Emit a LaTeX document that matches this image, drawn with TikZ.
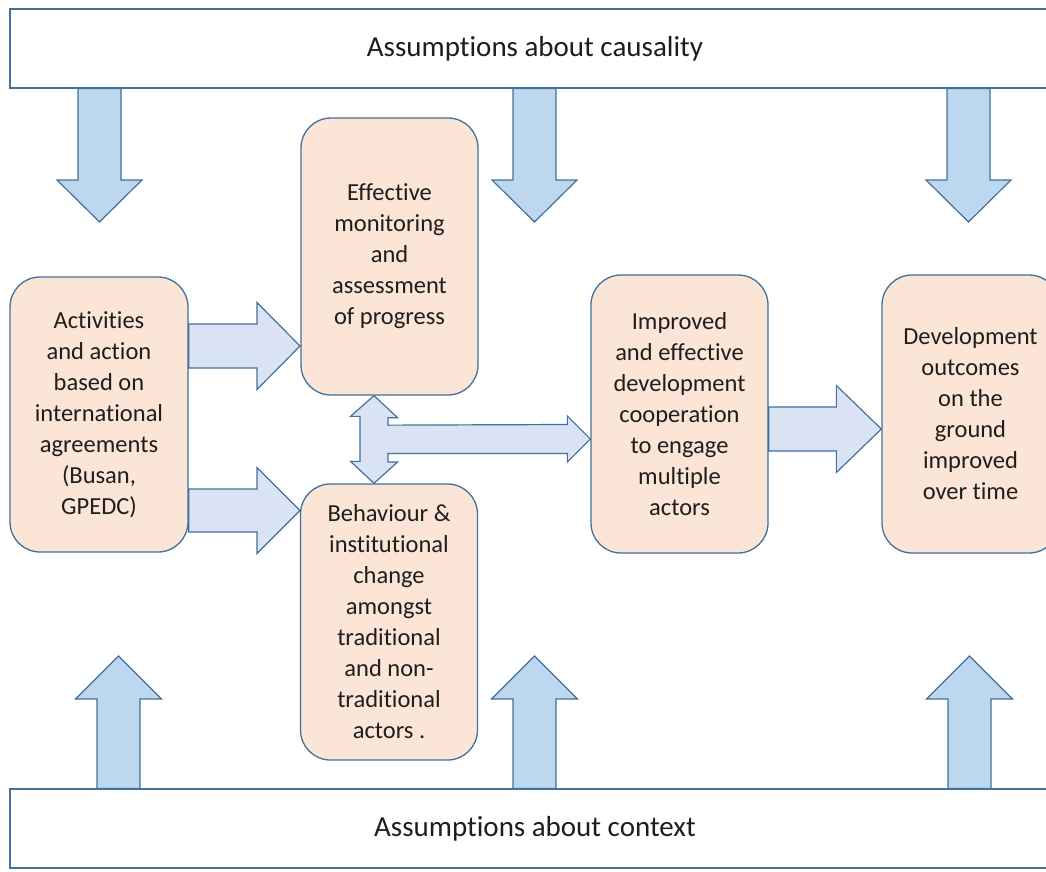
\documentclass[tikz,border=0pt]{standalone}
\usepackage{fontspec}
\setmainfont{Carlito}[Ligatures=NoCommon]
\usetikzlibrary{calc}

\definecolor{peach}{HTML}{FBE5D6}
\definecolor{boxline}{HTML}{41719C}
\definecolor{outerblue}{HTML}{BDD7EE}
\definecolor{innerblue}{HTML}{DAE3F3}
\definecolor{txt}{HTML}{1E1E1E}

% block arrow: [style]{from}{to}{half shaft}{half head}{head length}
\newcommand{\fatarrow}[6][]{%
  \draw[#1] let \p1=($(#3)-(#2)$), \n1={atan2(\y1,\x1)} in
    ($(#2)+(\n1+90:#4pt)$)
    -- ($(#3)+(\n1+180:#6pt)+(\n1+90:#4pt)$)
    -- ($(#3)+(\n1+180:#6pt)+(\n1+90:#5pt)$)
    -- (#3)
    -- ($(#3)+(\n1+180:#6pt)+(\n1-90:#5pt)$)
    -- ($(#3)+(\n1+180:#6pt)+(\n1-90:#4pt)$)
    -- ($(#2)+(\n1-90:#4pt)$) -- cycle;}

\begin{document}
\begin{tikzpicture}[x=1pt,y=-1pt,
    banner/.style={draw=boxline,fill=white,line width=1.3pt,minimum width=1050pt,minimum height=79pt,
      text=txt,font=\fontsize{29}{34}\selectfont},
    stage/.style={draw=boxline,fill=peach,line width=1.3pt,rounded corners=30pt,minimum width=177pt,
      align=center,text=txt,font=\fontsize{24.5}{31}\selectfont},
    outer/.style={draw=boxline,line width=1.2pt,fill=outerblue},
    inner/.style={draw=boxline,line width=1.2pt,fill=innerblue}]
	\useasboundingbox (0,0) rectangle (1046,872);
	\clip (0,0) rectangle (1046,872);
	\node[banner] (cause) at (535,48.5) {Assumptions about causality};
	\node[banner] (context) at (535,828.5) {Assumptions about context};
	\node[stage,minimum width=178pt,minimum height=275pt] (act) at (99,414.5)
		{Activities\\and action\\based on\\international\\agreements\\(Busan,\\GPEDC)};
	\node[stage,minimum height=277pt] (mon) at (389.5,256.5)
		{Effective\\monitoring\\and\\assessment\\of progress};
	\node[stage,minimum height=276pt] (beh) at (389,622)
		{Behaviour \&\\institutional\\change\\amongst\\traditional\\and non-\\traditional\\actors .};
	\node[stage,minimum height=278pt] (imp) at (679.5,414)
		{Improved\\and effective\\development\\cooperation\\to engage\\multiple\\actors};
	\node[stage,minimum height=278pt] (dev) at (970.5,414)
		{Development\\outcomes\\on the\\ground\\improved\\over time};
	% arrow tips
	\coordinate (d1) at (99.5,222);
	\coordinate (d2) at (534.5,222);
	\coordinate (d3) at (968.5,222);
	\coordinate (u1) at (118.5,656);
	\coordinate (u2) at (534.5,656);
	\coordinate (u3) at (969.5,656);
	\coordinate (ra) at (300,346);
	\coordinate (rb) at (300,510.5);
	\coordinate (rc) at (882,429);
	\coordinate (hub) at (374,439);
	% assumptions
	\fatarrow[outer]{cause.south -| d1}{d1}{21.5}{42.5}{42}
	\fatarrow[outer]{cause.south -| d2}{d2}{21.5}{42.5}{42}
	\fatarrow[outer]{cause.south -| d3}{d3}{21.5}{42.5}{42}
	\fatarrow[outer]{context.north -| u1}{u1}{21.5}{43}{43}
	\fatarrow[outer]{context.north -| u2}{u2}{21.5}{43}{43}
	\fatarrow[outer]{context.north -| u3}{u3}{21.5}{43}{43}
	% flow
	\fatarrow[inner]{act.east |- ra}{ra}{22}{43.5}{43}
	\fatarrow[inner]{act.east |- rb}{rb}{21.5}{43}{43}
	\fatarrow[inner]{imp.east |- rc}{dev.west |- rc}{22}{43.5}{45}
	\draw[inner] (hub |- mon.south) -- ++(23.5,22) -- ++(-9.5,0) -- ++(0,7.5)
		-- ($(imp.west |- hub)+(-23,-14.5)$) -- ++(0,-8.5) -- (imp.west |- hub)
		-- ++(-23,23) -- ++(0,-8.5) -- ($(hub)+(14,14.5)$) -- ++(0,8.5) -- ++(9.5,0)
		-- (hub |- beh.north) -- ++(-23.5,-22) -- ++(9.5,0) -- ++(0,-45) -- ++(-9.5,0) -- cycle;
\end{tikzpicture}
\end{document}
